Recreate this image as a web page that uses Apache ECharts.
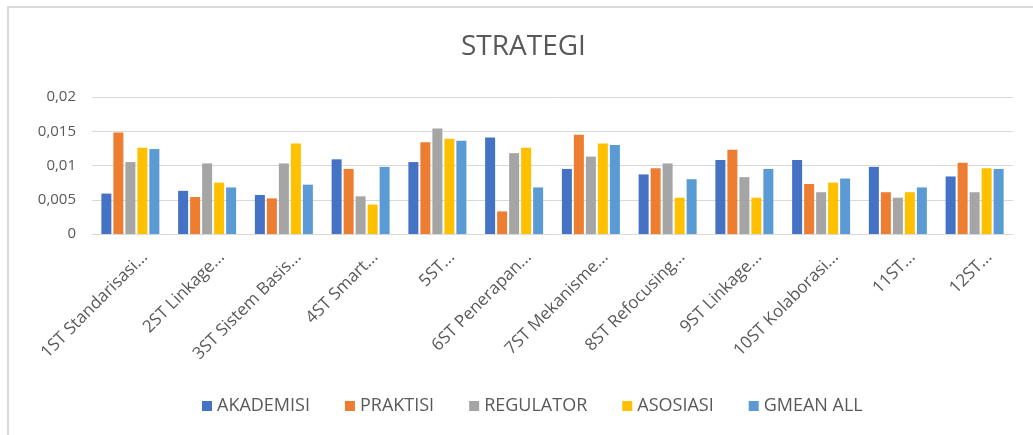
<!DOCTYPE html>
<html>
<head>
<meta charset="utf-8">
<script src="https://cdn.jsdelivr.net/npm/echarts@6/dist/echarts.min.js"></script>
<style>
  html, body { margin: 0; padding: 0; background: #fff; }
  #main { width: 1033px; height: 435px; }
</style>
</head>
<body>
<div id="main"></div>
<script>
// category labels as shown (truncated in the source)
var categories = ['1ST Standarisasi...', '2ST Linkage...', '3ST Sistem Basis...', '4ST Smart...', '5ST...',
	'6ST Penerapan...', '7ST Mekanisme...', '8ST Refocusing...', '9ST Linkage...', '10ST Kolaborasi...', '11ST...', '12ST...'];

var akademisi = [0.0059, 0.0063, 0.0057, 0.0109, 0.0105, 0.0141, 0.0095, 0.0087, 0.0108, 0.0108, 0.0098, 0.0084];
var praktisi  = [0.0148, 0.0054, 0.0052, 0.0095, 0.0134, 0.0033, 0.0145, 0.0096, 0.0123, 0.0073, 0.0061, 0.0104];
var regulator = [0.0105, 0.0103, 0.0103, 0.0055, 0.0154, 0.0118, 0.0113, 0.0103, 0.0083, 0.0061, 0.0053, 0.0061];
var asosiasi  = [0.0126, 0.0075, 0.0132, 0.0043, 0.0139, 0.0126, 0.0132, 0.0053, 0.0053, 0.0075, 0.0061, 0.0096];
var gmeanAll  = [0.0124, 0.0068, 0.0072, 0.0098, 0.0136, 0.0068, 0.0130, 0.0080, 0.0095, 0.0081, 0.0068, 0.0095];

var seriesNames = ['AKADEMISI', 'PRAKTISI', 'REGULATOR', 'ASOSIASI', 'GMEAN ALL'];
var seriesData = [akademisi, praktisi, regulator, asosiasi, gmeanAll];
var colors = ['#4472C4', '#ED7D31', '#A5A5A5', '#FFC000', '#5B9BD5'];

var font = '"Open Sans", "Noto Sans", sans-serif';
var chart = echarts.init(document.getElementById('main'));

var series = [];
for (var i = 0; i < seriesNames.length; i++) {
	series.push({
		name: seriesNames[i],
		type: 'bar',
		data: seriesData[i],
		barWidth: 10,
		barGap: '20%',
		itemStyle: { color: colors[i] }
	});
}

chart.setOption({
	animation: false,
	color: colors,
	title: {
		text: 'STRATEGI',
		left: 456,
		top: 28,
		textStyle: { fontFamily: font, fontSize: 28, fontWeight: 'normal', color: '#595959' }
	},
	legend: {
		data: seriesNames,
		top: 392,
		left: 197,
		icon: 'rect',
		itemWidth: 10,
		itemHeight: 10,
		itemGap: 35,
		textStyle: { fontFamily: font, fontSize: 18, color: '#595959' }
	},
	grid: { left: 92, right: 20, top: 97, bottom: 201, containLabel: false },
	xAxis: {
		type: 'category',
		data: categories,
		axisTick: { show: false },
		axisLine: { lineStyle: { color: '#d9d9d9' } },
		axisLabel: {
			rotate: 45,
			interval: 0,
			margin: 6,
			verticalAlign: 'top',
			padding: [12, 0, 0, 0],
			fontFamily: font,
			fontSize: 17,
			color: '#595959'
		}
	},
	yAxis: {
		type: 'value',
		min: 0,
		max: 0.02,
		interval: 0.005,
		axisLine: { show: false },
		axisTick: { show: false },
		splitLine: { lineStyle: { color: '#d9d9d9' } },
		axisLabel: {
			margin: 16,
			fontFamily: font,
			fontSize: 15,
			color: '#595959',
			formatter: function(v) {
				return String(+v.toFixed(3)).replace('.', ',');
			}
		}
	},
	graphic: [{
		type: 'polyline',
		shape: { points: [[8, 435], [8, 7], [1033, 7]] },
		style: { stroke: '#d9d9d9', lineWidth: 2, fill: null }
	}],
	series: series
});
</script>
</body>
</html>
